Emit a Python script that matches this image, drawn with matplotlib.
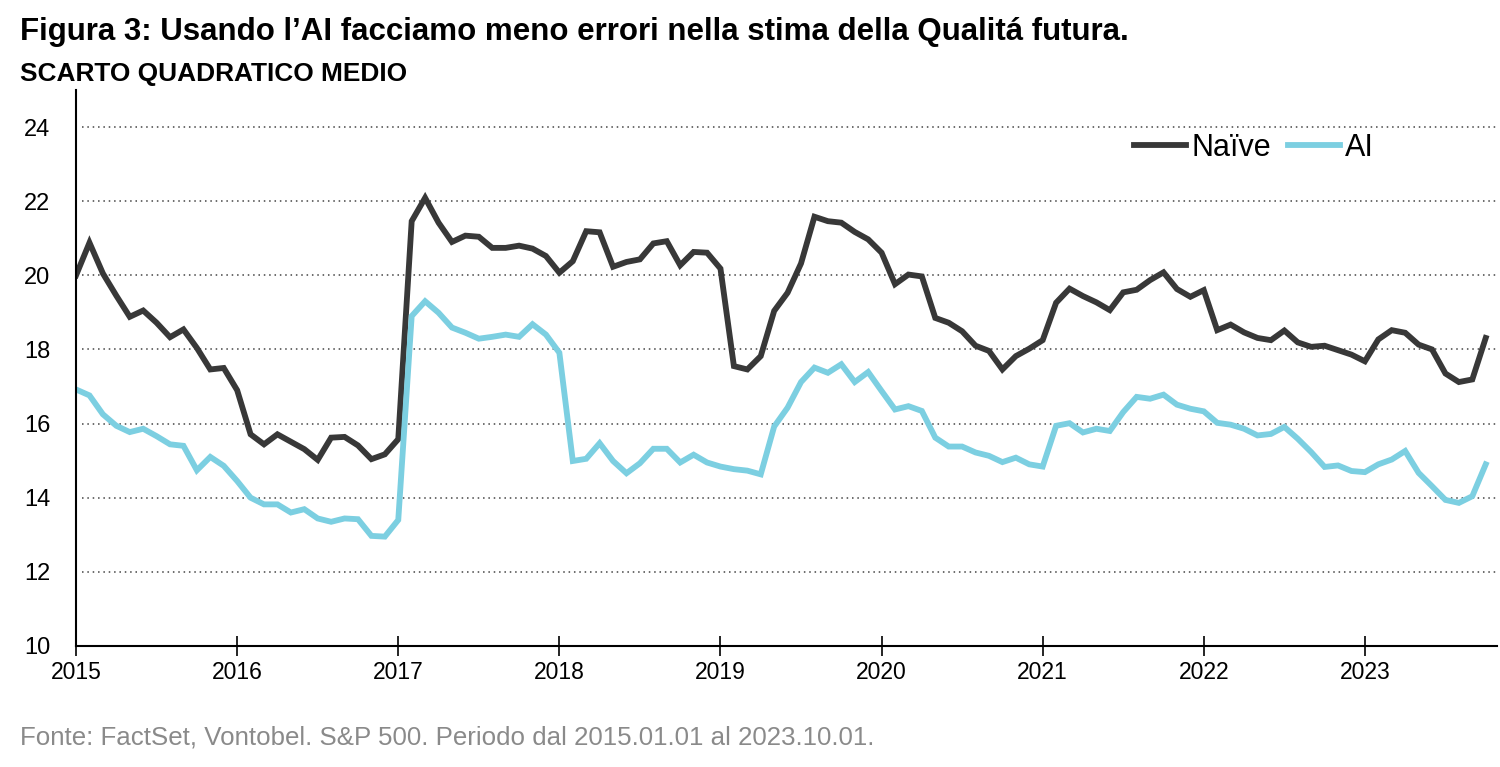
import numpy as np
import matplotlib.pyplot as plt

plt.rcParams['font.family'] = ['Liberation Sans', 'DejaVu Sans']

# monthly values, 2015.01 - 2023.10
naive = [20.0, 20.88, 20.05, 19.45, 18.88, 19.05, 18.72, 18.33, 18.54, 18.04,
         17.46, 17.5, 16.9, 15.71, 15.44, 15.71, 15.51, 15.31, 15.02, 15.62,
         15.64, 15.41, 15.04, 15.17, 15.58, 21.46, 22.09, 21.42, 20.9, 21.07,
         21.04, 20.74, 20.74, 20.8, 20.72, 20.52, 20.07, 20.38, 21.19, 21.16,
         20.23, 20.36, 20.43, 20.86, 20.92, 20.27, 20.63, 20.61, 20.18, 17.55,
         17.46, 17.82, 19.04, 19.53, 20.32, 21.58, 21.46, 21.42, 21.17, 20.97,
         20.61, 19.76, 20.02, 19.97, 18.85, 18.72, 18.49, 18.1, 17.96, 17.46,
         17.82, 18.02, 18.25, 19.26, 19.64, 19.44, 19.27, 19.06, 19.54, 19.61,
         19.87, 20.08, 19.63, 19.42, 19.6, 18.52, 18.67, 18.46, 18.31, 18.25,
         18.51, 18.19, 18.07, 18.1, 17.98, 17.86, 17.68, 18.27, 18.52, 18.45,
         18.13, 18.0, 17.35, 17.12, 17.19, 18.31]
ai = [16.92, 16.76, 16.25, 15.94, 15.77, 15.86, 15.66, 15.44, 15.4, 14.74,
      15.1, 14.86, 14.45, 14.0, 13.82, 13.82, 13.6, 13.69, 13.44, 13.35,
      13.44, 13.42, 12.97, 12.95, 13.4, 18.9, 19.3, 18.99, 18.59, 18.45,
      18.29, 18.34, 18.4, 18.34, 18.68, 18.4, 17.91, 14.99, 15.05, 15.47,
      14.99, 14.66, 14.93, 15.32, 15.32, 14.95, 15.16, 14.95, 14.84, 14.77,
      14.73, 14.63, 15.92, 16.43, 17.12, 17.51, 17.37, 17.6, 17.12, 17.39,
      16.88, 16.38, 16.47, 16.34, 15.62, 15.38, 15.38, 15.22, 15.13, 14.96,
      15.08, 14.9, 14.84, 15.94, 16.01, 15.76, 15.86, 15.8, 16.31, 16.72,
      16.67, 16.78, 16.51, 16.4, 16.33, 16.02, 15.97, 15.86, 15.68, 15.72,
      15.91, 15.59, 15.23, 14.83, 14.87, 14.72, 14.69, 14.9, 15.03, 15.26,
      14.67, 14.31, 13.94, 13.86, 14.04, 14.9]
years = list(range(2015, 2024))

x = 2015 + np.arange(len(naive)) / 12.0

fig = plt.figure(figsize=(15, 7.67), dpi=100)
ax = fig.add_axes([0.0507, 0.1578, 0.9473, 0.7249])

ax.plot(x, naive, color='#383838', lw=4.2, label='Naïve', solid_joinstyle='miter')
ax.plot(x, ai, color='#7ccfe1', lw=4.2, label='AI', solid_joinstyle='miter')

ax.set_xlim(2015, 2023.82)
ax.set_ylim(10, 25)
ax.set_yticks(range(10, 25, 2))
ax.set_xticks(years)
ax.set_xticklabels([str(y) for y in years])
for v in range(12, 25, 2):
    ax.axhline(v, xmin=0.004, color='#444444', lw=1.1, ls=(0, (1, 2.5)), zorder=0)

for s in ['top', 'right']:
    ax.spines[s].set_visible(False)
ax.spines['left'].set_linewidth(1.5)
ax.spines['bottom'].set_linewidth(1.5)
ax.tick_params(axis='y', length=0, pad=18.5, labelsize=17)
ax.tick_params(axis='x', direction='inout', length=14, width=1.2, pad=4, labelsize=16.5)

ax.legend(loc='center', bbox_to_anchor=(0.829, 0.8957), ncol=2, frameon=False,
          fontsize=22, handlelength=1.7, handletextpad=0.17, columnspacing=0.55)

fig.text(0.013, 0.958, 'Figura 3: Usando l\u2019AI facciamo meno errori nella stima della Qualitá futura.',
         fontsize=22.5, fontweight='bold', va='center')
fig.text(0.013, 0.9035, 'SCARTO QUADRATICO MEDIO', fontsize=18.9, fontweight='bold', va='center')
fig.text(0.013, 0.038, 'Fonte: FactSet, Vontobel. S&P 500. Periodo dal 2015.01.01 al 2023.10.01.',
         fontsize=18.6, color='#8a8a8a', va='center')

fig.savefig('out.png', dpi=100)
